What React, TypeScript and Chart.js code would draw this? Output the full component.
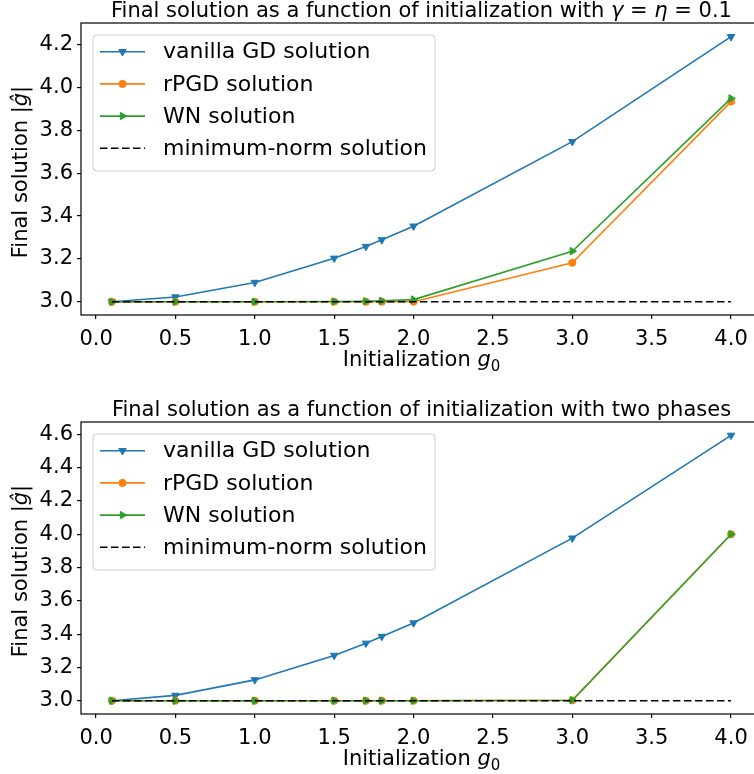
import React, { useEffect, useRef } from 'react';
import { Chart, registerables } from 'chart.js';

Chart.register(...registerables);

// ---------- data ----------
const initValues = [0.1, 0.5, 1.0, 1.5, 1.7, 1.8, 2.0, 3.0, 4.0];
const xTickValues = [0.0, 0.5, 1.0, 1.5, 2.0, 2.5, 3.0, 3.5, 4.0];

const topVanilla = [3.0, 3.022, 3.09, 3.203, 3.258, 3.289, 3.353, 3.748, 4.238];
const topRPGD = [3.0, 3.0, 3.0, 3.0, 3.0, 3.0, 3.0, 3.182, 3.935];
const topWN = [3.0, 3.0, 3.0, 3.001, 3.002, 3.004, 3.01, 3.236, 3.95];
const topMinNorm = [3.0, 3.0, 3.0, 3.0, 3.0, 3.0, 3.0, 3.0, 3.0];
const topYTicks = [3.0, 3.2, 3.4, 3.6, 3.8, 4.0, 4.2];

const bottomVanilla = [3.0, 3.032, 3.125, 3.272, 3.345, 3.386, 3.467, 3.977, 4.595];
const bottomRPGD = [3.0, 3.0, 3.0, 3.0, 3.0, 3.0, 3.0, 3.002, 4.0];
const bottomWN = [3.0, 3.0, 3.0, 3.0, 3.0, 3.0, 3.0, 3.003, 4.0];
const bottomMinNorm = [3.0, 3.0, 3.0, 3.0, 3.0, 3.0, 3.0, 3.0, 3.0];
const bottomYTicks = [3.0, 3.2, 3.4, 3.6, 3.8, 4.0, 4.2, 4.4, 4.6];

const seriesLabels = ['vanilla GD solution', 'rPGD solution', 'WN solution', 'minimum-norm solution'];

type Seg = { t: string; i?: boolean; sub?: boolean };
const topTitle: Seg[] = [
  { t: 'Final solution as a function of initialization with ' },
  { t: 'γ', i: true },
  { t: ' = ' },
  { t: 'η', i: true },
  { t: ' = 0.1' },
];
const bottomTitle: Seg[] = [{ t: 'Final solution as a function of initialization with two phases' }];
const xLabel: Seg[] = [{ t: 'Initialization ' }, { t: 'g', i: true }, { t: '0', sub: true }];
const yLabel: Seg[] = [{ t: 'Final solution ' }, { t: '|' }, { t: 'ĝ', i: true }, { t: '|' }];

// ---------- styles ----------
const FONT = '"DejaVu Sans", "Liberation Sans", sans-serif';
const BLUE = '#1f77b4';
const ORANGE = '#ff7f0e';
const GREEN = '#2ca02c';

function segFont(s: Seg, size: number) {
  const sz = s.sub ? Math.round(size * 0.7) : size;
  return `${s.i ? 'oblique ' : ''}${sz}px ${FONT}`;
}

function drawRich(ctx: CanvasRenderingContext2D, segs: Seg[], cx: number, y: number, size: number) {
  ctx.save();
  ctx.textBaseline = 'alphabetic';
  ctx.textAlign = 'left';
  let total = 0;
  const widths = segs.map((s) => {
    ctx.font = segFont(s, size);
    const w = ctx.measureText(s.t).width;
    total += w;
    return w;
  });
  let x = cx - total / 2;
  segs.forEach((s, k) => {
    ctx.font = segFont(s, size);
    ctx.fillStyle = '#000';
    ctx.fillText(s.t, x, s.sub ? y + size * 0.22 : y);
    x += widths[k];
  });
  ctx.restore();
}

function drawMarker(ctx: CanvasRenderingContext2D, kind: string, x: number, y: number, r: number, color: string) {
  ctx.save();
  ctx.fillStyle = color;
  ctx.strokeStyle = color;
  ctx.lineWidth = 1;
  ctx.beginPath();
  const s = Math.sin(Math.PI / 3);
  if (kind === 'down') {
    ctx.moveTo(x, y + r);
    ctx.lineTo(x - r * s, y - r / 2);
    ctx.lineTo(x + r * s, y - r / 2);
    ctx.closePath();
  } else if (kind === 'right') {
    ctx.moveTo(x + r, y);
    ctx.lineTo(x - r / 2, y - r * s);
    ctx.lineTo(x - r / 2, y + r * s);
    ctx.closePath();
  } else if (kind === 'circle') {
    ctx.arc(x, y, r, 0, Math.PI * 2);
  }
  if (kind !== 'none') {
    ctx.fill();
    ctx.stroke();
  }
  ctx.restore();
}

const legendKinds = [
  { color: BLUE, marker: 'down', r: 4.3, dash: [] as number[] },
  { color: ORANGE, marker: 'circle', r: 3.6, dash: [] as number[] },
  { color: GREEN, marker: 'right', r: 4.3, dash: [] as number[] },
  { color: '#000', marker: 'none', r: 0, dash: [7.5, 3.5] },
];

const decorPlugin = {
  id: 'decor',
  afterDraw(chart: any, _args: any, opts: any) {
    const ctx: CanvasRenderingContext2D = chart.ctx;
    const a = chart.chartArea;
    const cx = (a.left + a.right) / 2;
    // spines
    ctx.save();
    ctx.strokeStyle = '#000';
    ctx.lineWidth = 1.2;
    ctx.strokeRect(a.left, a.top, a.right - a.left, a.bottom - a.top);
    ctx.restore();
    // title
    drawRich(ctx, opts.title, cx, a.top - 6, 21);
    // x label
    drawRich(ctx, xLabel, cx, a.bottom + 51, 21);
    // y label
    ctx.save();
    ctx.translate(27, (a.top + a.bottom) / 2 + 3);
    ctx.rotate(-Math.PI / 2);
    drawRich(ctx, yLabel, 0, 0, 21);
    ctx.restore();
    // legend
    const lx = 93;
    const ly = a.top + 12;
    const lw = 342;
    const lh = 136;
    ctx.save();
    ctx.beginPath();
    const rr = 4;
    ctx.moveTo(lx + rr, ly);
    ctx.arcTo(lx + lw, ly, lx + lw, ly + lh, rr);
    ctx.arcTo(lx + lw, ly + lh, lx, ly + lh, rr);
    ctx.arcTo(lx, ly + lh, lx, ly, rr);
    ctx.arcTo(lx, ly, lx + lw, ly, rr);
    ctx.closePath();
    ctx.fillStyle = 'rgba(255,255,255,0.8)';
    ctx.fill();
    ctx.strokeStyle = '#cccccc';
    ctx.lineWidth = 1;
    ctx.stroke();
    ctx.restore();
    seriesLabels.forEach((label, k) => {
      const yy = ly + 16.7 + k * 32.2;
      const kind = legendKinds[k];
      ctx.save();
      ctx.strokeStyle = kind.color;
      ctx.lineWidth = 1.6;
      ctx.setLineDash(kind.dash);
      ctx.beginPath();
      ctx.moveTo(100, yy);
      ctx.lineTo(145, yy);
      ctx.stroke();
      ctx.restore();
      drawMarker(ctx, kind.marker, 122.5, yy, kind.r, kind.color);
      ctx.save();
      ctx.font = `22px ${FONT}`;
      ctx.fillStyle = '#000';
      ctx.textBaseline = 'middle';
      ctx.textAlign = 'left';
      ctx.fillText(label, 163, yy + 1);
      ctx.restore();
    });
  },
};

function pts(ys: number[]) {
  return initValues.map((x, i) => ({ x, y: ys[i] }));
}

function makeConfig(
  series: number[][],
  yTicks: number[],
  yMin: number,
  yMax: number,
  padTop: number,
  xHeight: number,
  title: Seg[]
): any {
  const [v, r, w, m] = series;
  const base = { borderWidth: 1.6, tension: 0, pointBorderWidth: 1, pointHoverRadius: 0 };
  return {
    type: 'line',
    data: {
      datasets: [
        { ...base, label: seriesLabels[0], data: pts(v), borderColor: BLUE, backgroundColor: BLUE, pointBackgroundColor: BLUE, pointStyle: 'triangle', rotation: 180, pointRadius: 4.3, order: 3 },
        { ...base, label: seriesLabels[1], data: pts(r), borderColor: ORANGE, backgroundColor: ORANGE, pointBackgroundColor: ORANGE, pointStyle: 'circle', pointRadius: 3.6, order: 2 },
        { ...base, label: seriesLabels[2], data: pts(w), borderColor: GREEN, backgroundColor: GREEN, pointBackgroundColor: GREEN, pointStyle: 'triangle', rotation: 90, pointRadius: 4.3, order: 1 },
        { ...base, label: seriesLabels[3], data: pts(m), borderColor: '#000', backgroundColor: '#000', borderDash: [7.5, 3.5], pointRadius: 0, order: 0 },
      ],
    },
    options: {
      animation: false,
      responsive: false,
      maintainAspectRatio: false,
      events: [],
      layout: { padding: { top: padTop, right: 8, left: 0, bottom: 0 } },
      plugins: {
        legend: { display: false },
        tooltip: { enabled: false },
        title: { display: false },
        decor: { title },
      },
      scales: {
        x: {
          type: 'linear',
          min: -0.095,
          max: 4.195,
          afterBuildTicks: (s: any) => {
            s.ticks = xTickValues.map((value) => ({ value }));
          },
          afterFit: (s: any) => {
            s.height = xHeight;
          },
          border: { display: false },
          grid: { display: true, drawOnChartArea: false, drawTicks: true, tickLength: 4, color: '#000', lineWidth: 1.2 },
          ticks: {
            padding: 8,
            color: '#000',
            font: { family: FONT, size: 21 },
            maxRotation: 0,
            autoSkip: false,
            callback: (val: any) => Number(val).toFixed(1),
          },
        },
        y: {
          type: 'linear',
          min: yMin,
          max: yMax,
          afterBuildTicks: (s: any) => {
            s.ticks = yTicks.map((value) => ({ value }));
          },
          afterFit: (s: any) => {
            s.width = 81;
          },
          border: { display: false },
          grid: { display: true, drawOnChartArea: false, drawTicks: true, tickLength: 4, color: '#000', lineWidth: 1.2 },
          ticks: {
            padding: 4,
            color: '#000',
            font: { family: FONT, size: 21 },
            autoSkip: false,
            callback: (val: any) => Number(val).toFixed(1),
          },
        },
      },
    },
    plugins: [decorPlugin],
  };
}

export default function App() {
  const topRef = useRef<HTMLCanvasElement | null>(null);
  const bottomRef = useRef<HTMLCanvasElement | null>(null);

  useEffect(() => {
    const c1 = new Chart(
      topRef.current as HTMLCanvasElement,
      makeConfig([topVanilla, topRPGD, topWN, topMinNorm], topYTicks, 2.938, 4.302, 23, 72, topTitle)
    );
    const c2 = new Chart(
      bottomRef.current as HTMLCanvasElement,
      makeConfig([bottomVanilla, bottomRPGD, bottomWN, bottomMinNorm], bottomYTicks, 2.92, 4.675, 35, 60, bottomTitle)
    );
    return () => {
      c1.destroy();
      c2.destroy();
    };
  }, []);

  return (
    <div
      style={{
        position: 'fixed',
        left: 0,
        top: 0,
        width: 754,
        height: 774,
        overflow: 'hidden',
        background: '#fff',
      }}
    >
      <canvas
        ref={topRef}
        width={770}
        height={387}
        style={{ position: 'absolute', left: 0, top: 0, width: 770, height: 387 }}
      />
      <canvas
        ref={bottomRef}
        width={770}
        height={387}
        style={{ position: 'absolute', left: 0, top: 387, width: 770, height: 387 }}
      />
    </div>
  );
}
